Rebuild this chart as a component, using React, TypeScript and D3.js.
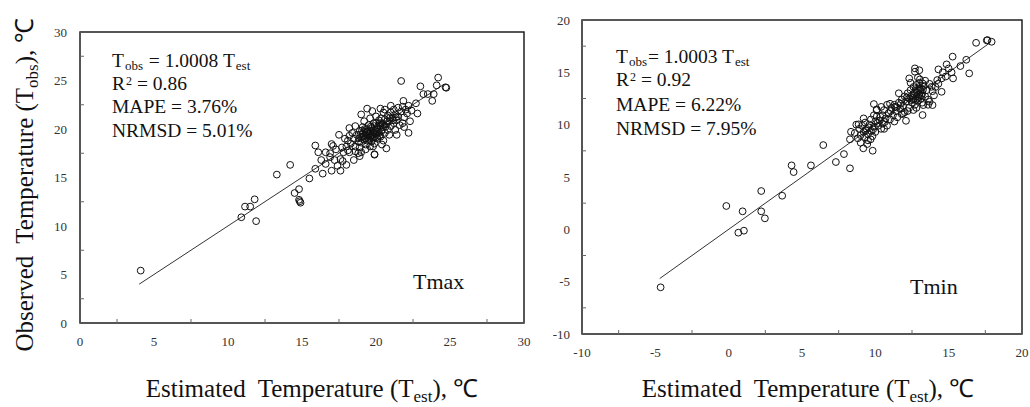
import React from "react";
import * as d3 from "d3";

// ---- data ----
const tmaxTicks = [0, 5, 10, 15, 20, 25, 30];
const tminTicks = [-10, -5, 0, 5, 10, 15, 20];

const tmaxStats = ["1.0008", "0.86", "3.76%", "5.01%"];
const tminStats = ["1.0003", "0.92", "6.22%", "7.95%"];

// [estimated, observed]
const tmaxPoints: [number, number][] = [
  [4.1, 5.4], [10.9, 10.9], [11.15, 12.0], [11.5, 12.0], [11.8, 12.75], [11.9, 10.5],
  [14.5, 13.4], [14.8, 13.8], [14.8, 12.7], [14.9, 12.4], [14.85, 12.55], [13.3, 15.3],
  [14.2, 16.3], [15.5, 14.9], [15.9, 15.9], [16.4, 15.4], [16.6, 16.4], [17.0, 15.7],
  [17.6, 15.7], [15.9, 18.3], [16.6, 17.6], [17.0, 18.45], [17.1, 18.25], [16.9, 17.1],
  [17.2, 16.8], [17.6, 16.9], [17.75, 16.7], [17.8, 17.6], [18.1, 17.8], [18.5, 16.8],
  [18.8, 17.5], [18.9, 17.2], [19.9, 17.35], [19.6, 18.2], [21.7, 24.95], [24.2, 25.3],
  [24.1, 24.5], [23.0, 24.4], [23.2, 23.6], [23.5, 23.6], [23.9, 23.6], [23.8, 22.9],
  [24.7, 24.3], [24.75, 24.25], [22.7, 22.65], [22.8, 21.6], [21.85, 22.9], [22.2, 19.6],
  [21.9, 20.2], [20.7, 18.0], [19.9, 17.4], [19.4, 22.1], [20.3, 22.1], [19.75, 21.85],
  [18.2, 20.1], [17.5, 19.4], [18.1, 18.8], [21.4, 19.4],
  [18.3, 18.5], [18.5, 19.0], [18.6, 18.2], [18.7, 19.4], [18.8, 18.7], [18.9, 19.8],
  [18.9, 18.1], [19.0, 19.1], [19.0, 18.6], [19.1, 19.5], [19.1, 20.2], [19.2, 18.9],
  [19.2, 19.7], [19.3, 18.4], [19.3, 19.3], [19.4, 20.0], [19.4, 18.8], [19.5, 19.5],
  [19.5, 19.0], [19.5, 20.4], [19.6, 19.2], [19.6, 19.8], [19.7, 18.7], [19.7, 19.4],
  [19.7, 20.1], [19.8, 19.0], [19.8, 19.6], [19.9, 20.3], [19.9, 19.2], [19.9, 18.5],
  [20.0, 19.8], [20.0, 19.4], [20.0, 20.6], [20.1, 19.0], [20.1, 20.0], [20.2, 19.6],
  [20.2, 20.9], [20.3, 20.3], [20.3, 19.2], [20.4, 19.9], [20.4, 20.6], [20.5, 18.8],
  [20.5, 20.2], [20.6, 21.0], [20.6, 19.6], [20.7, 20.5], [20.8, 21.4], [20.8, 19.9],
  [20.9, 20.8], [21.0, 21.7], [21.0, 20.3], [21.1, 21.1], [21.2, 22.0], [21.2, 20.6],
  [21.3, 21.5], [21.4, 20.9], [21.5, 22.2], [21.5, 21.3], [21.6, 20.4], [21.7, 21.8],
  [21.8, 22.3], [21.9, 21.2], [22.0, 22.0], [22.1, 21.6], [22.2, 22.4], [22.3, 20.8],
  [22.4, 21.9], [18.0, 18.2], [17.9, 19.0], [18.2, 17.6], [18.4, 19.6], [17.7, 18.1],
  [18.6, 17.7], [19.0, 17.6], [19.3, 17.9], [19.8, 18.2], [20.4, 18.4], [20.9, 19.4],
  [21.3, 19.9], [21.8, 20.6], [19.2, 20.8], [19.6, 21.1], [18.6, 20.3], [20.0, 21.3],
  [20.5, 21.7], [21.0, 22.4], [20.6, 22.0], [19.0, 21.5], [18.2, 19.3], [17.3, 17.9],
  [16.9, 17.5], [16.3, 16.8], [16.1, 17.6], [17.4, 16.2], [18.0, 16.3],
  // dense core
  [19.15, 19.25], [19.25, 19.05], [19.35, 19.6], [19.45, 19.35], [19.55, 18.85], [19.6, 19.55],
  [19.65, 20.25], [19.75, 19.15], [19.85, 19.85], [19.95, 19.55], [20.05, 19.15], [20.1, 19.7],
  [20.15, 20.35], [20.25, 19.35], [20.35, 19.75], [20.45, 20.4], [19.05, 19.85], [18.95, 19.45],
  [18.85, 19.05], [19.25, 20.0], [19.45, 19.75], [19.85, 20.6], [20.25, 20.6], [20.65, 20.25],
  [20.75, 20.8], [20.95, 21.2], [21.15, 20.9], [21.35, 21.2], [20.35, 21.1], [20.05, 20.1],
];

const tminPoints: [number, number][] = [
  [-4.64, -5.54], [-0.16, 2.23], [0.95, 1.72], [0.66, -0.32], [1.04, -0.13], [2.22, 3.66],
  [2.22, 1.72], [2.47, 1.05], [3.65, 3.21], [4.29, 6.11], [4.43, 5.47], [5.61, 6.11],
  [6.45, 8.05], [7.31, 6.43], [7.86, 7.19], [8.27, 5.83], [8.34, 9.32], [8.27, 8.6],
  [8.86, 10.03], [9.0, 8.27], [9.18, 7.74], [9.45, 8.15], [9.82, 7.51], [9.68, 8.6],
  [9.9, 11.97], [10.1, 11.46], [17.65, 18.08], [17.93, 17.92], [17.6, 18.05], [16.87, 17.82],
  [15.27, 16.5], [14.86, 15.76], [15.0, 15.37], [14.3, 15.28], [16.4, 14.9], [15.3, 14.42],
  [14.52, 14.42], [14.22, 14.26], [14.52, 13.14], [13.84, 13.62], [13.7, 12.19], [13.9, 11.87],
  [12.7, 15.38], [12.7, 15.06], [12.31, 14.42], [13.04, 14.33], [13.22, 13.94], [11.34, 11.71],
  [11.9, 11.08], [13.22, 10.92], [12.09, 10.37], [13.27, 11.87], [10.09, 11.39],
  [8.6, 9.2], [8.8, 8.7], [8.9, 9.6], [9.0, 9.0], [9.1, 9.9], [9.2, 9.3], [9.3, 8.8],
  [9.3, 10.2], [9.4, 9.6], [9.5, 9.1], [9.6, 10.0], [9.7, 9.4], [9.7, 10.5], [9.8, 8.9],
  [9.9, 9.8], [10.0, 10.3], [10.0, 9.3], [10.1, 10.8], [10.2, 9.9], [10.3, 10.4], [10.4, 9.6],
  [10.5, 10.9], [10.5, 10.1], [10.6, 11.4], [10.7, 10.6], [10.8, 9.9], [10.9, 11.1],
  [11.0, 10.5], [11.1, 11.6], [11.2, 10.9], [11.3, 11.9], [11.4, 11.3], [11.5, 10.7],
  [11.6, 12.1], [11.7, 11.5], [11.8, 12.4], [11.9, 11.8], [12.0, 12.7], [12.0, 11.2],
  [12.1, 12.2], [12.2, 13.0], [12.3, 12.5], [12.3, 11.6], [12.4, 13.3], [12.5, 12.8],
  [12.5, 12.1], [12.6, 13.6], [12.6, 12.4], [12.7, 13.1], [12.7, 11.9], [12.8, 12.7],
  [12.8, 13.8], [12.9, 12.3], [12.9, 13.3], [13.0, 12.9], [13.0, 14.0], [13.1, 12.5],
  [13.1, 13.5], [13.2, 13.0], [13.2, 12.1], [13.3, 13.7], [13.4, 12.7], [13.5, 13.3],
  [13.6, 12.4], [13.7, 13.9], [13.9, 13.2], [14.0, 12.8], [14.1, 13.6], [12.4, 14.0],
  [12.9, 14.5], [12.2, 11.3], [11.6, 13.0], [11.0, 12.0], [10.4, 11.7], [10.8, 11.9],
  [11.8, 11.0], [12.6, 11.4], [9.9, 10.9], [10.6, 9.6], [11.3, 10.3], [9.5, 8.5],
  [8.7, 10.0], [9.2, 10.6], [12.8, 11.6], [13.4, 14.2], [13.0, 15.2], [13.6, 11.9],
  [14.3, 13.9], [14.8, 14.6], [15.2, 15.0], [15.8, 15.6], [16.2, 16.2], [14.6, 15.0],
  // dense core
  [12.65, 12.95], [12.75, 12.35], [12.85, 13.05], [12.95, 12.65], [13.05, 13.25], [13.15, 12.8],
  [12.55, 12.55], [12.85, 12.5], [13.0, 13.6], [12.75, 13.4], [12.45, 12.35], [13.25, 13.35],
  [9.35, 9.45], [9.55, 9.75], [9.85, 9.55], [10.15, 10.15], [10.35, 10.75], [10.65, 10.25],
  [11.05, 11.3], [11.45, 11.65], [11.75, 12.0], [12.15, 12.6],
];

const tmaxFit = { slope: 1.0008, from: 4, to: 24.6 };
const tminFit = { slope: 1.0003, from: -4.7, to: 17.8 };

const serif = "Liberation Serif, Times New Roman, serif";

type PanelProps = {
  x0: number; x1: number; y0: number; y1: number;
  ticks: number[];
  points: [number, number][];
  fit: { slope: number; from: number; to: number };
  stats: string[];
  eqSpace: boolean;
  statX: number; statY: number[];
  name: string; nameX: number; nameY: number;
  yLabelX: number; xLabelY: number;
  titleX: number;
};

function Panel(p: PanelProps) {
  const lo = p.ticks[0];
  const hi = p.ticks[p.ticks.length - 1];
  const x = d3.scaleLinear().domain([lo, hi]).range([p.x0, p.x1]);
  const y = d3.scaleLinear().domain([lo, hi]).range([p.y1, p.y0]);
  // minor ticks halfway between labelled values
  const minor = p.ticks.slice(0, -1).map((t, i) => (t + p.ticks[i + 1]) / 2);
  const line = d3.line<number>().x((v) => x(v)).y((v) => y(v * p.fit.slope));

  return (
    <g>
      <rect x={p.x0} y={p.y0} width={p.x1 - p.x0} height={p.y1 - p.y0}
        fill="white" stroke="#111" strokeWidth={1.4} />
      <line x1={p.x0} x2={p.x0} y1={p.y0} y2={p.y1} stroke="#555" strokeWidth={2} />
      <line x1={p.x0} x2={p.x1} y1={p.y1} y2={p.y1} stroke="#555" strokeWidth={2} />
      {minor.map((t) => (
        <g key={"m" + t}>
          <line x1={x(t)} x2={x(t)} y1={p.y1} y2={p.y1 - 4} stroke="#666" />
          <line x1={p.x0} x2={p.x0 + 4} y1={y(t)} y2={y(t)} stroke="#666" />
        </g>
      ))}
      {p.ticks.map((t) => (
        <g key={"t" + t} style={{ fontFamily: serif }} fontSize={13} fill="#333">
          <text x={p.yLabelX} y={y(t)} textAnchor="end" dominantBaseline="central">{t}</text>
          <text x={x(t)} y={p.xLabelY} textAnchor="middle" dominantBaseline="central">{t}</text>
        </g>
      ))}
      <path d={line([p.fit.from, p.fit.to]) || ""} stroke="#333" strokeWidth={1} fill="none" />
      {p.points.map((d, i) => (
        <circle key={i} cx={x(d[0])} cy={y(d[1])} r={3.4} fill="none" stroke="#111" strokeWidth={1} />
      ))}
      <g style={{ fontFamily: serif, whiteSpace: "pre" }} fontSize={19.5} fill="#111">
        <text x={p.statX} y={p.statY[0]}>
          T<tspan fontSize={13} dx={1} dy={3}>obs</tspan>
          <tspan dx={1} dy={-3}>{(p.eqSpace ? " = " : "= ") + p.stats[0] + "  T"}</tspan>
          <tspan fontSize={13} dx={1} dy={3}>est</tspan>
        </text>
        <text x={p.statX} y={p.statY[1]}>
          R<tspan fontSize={12} dx={1} dy={-5}>2</tspan><tspan dy={5}>{" = " + p.stats[1]}</tspan>
        </text>
        <text x={p.statX} y={p.statY[2]}>{"MAPE = " + p.stats[2]}</text>
        <text x={p.statX} y={p.statY[3]}>{"NRMSD = " + p.stats[3]}</text>
      </g>
      <text x={p.nameX} y={p.nameY} style={{ fontFamily: serif }} fontSize={22} fill="#111">{p.name}</text>
      <text x={p.titleX} y={397} textAnchor="middle" style={{ fontFamily: serif, whiteSpace: "pre" }}
        fontSize={25} fill="#111">
        {"Estimated  Temperature (T"}<tspan fontSize={17} dy={5}>est</tspan>
        <tspan dy={-5}>{"), \u2103"}</tspan>
      </text>
    </g>
  );
}

export default function App() {
  return (
    <svg width={1030} height={407} style={{ position: "absolute", left: 0, top: 0, background: "white" }}>
      <Panel x0={80} x1={524} y0={32} y1={323} ticks={tmaxTicks} points={tmaxPoints}
        fit={tmaxFit} stats={tmaxStats} eqSpace={true} statX={112} statY={[67, 90, 113, 137]}
        name="Tmax" nameX={413} nameY={289} yLabelX={67} xLabelY={341} titleX={312} />
      <Panel x0={582} x1={1022} y0={20} y1={334} ticks={tminTicks} points={tminPoints}
        fit={tminFit} stats={tminStats} eqSpace={false} statX={616} statY={[63, 86, 111, 135]}
        name="Tmin" nameX={910} nameY={294} yLabelX={570} xLabelY={352} titleX={808} />
      <text transform="translate(33,185) rotate(-90)" textAnchor="middle"
        style={{ fontFamily: serif, whiteSpace: "pre" }} fontSize={25} fill="#111">
        {"Observed  Temperature (T"}<tspan fontSize={17} dy={5}>obs</tspan>
        <tspan dy={-5}>{"), \u2103"}</tspan>
      </text>
    </svg>
  );
}
